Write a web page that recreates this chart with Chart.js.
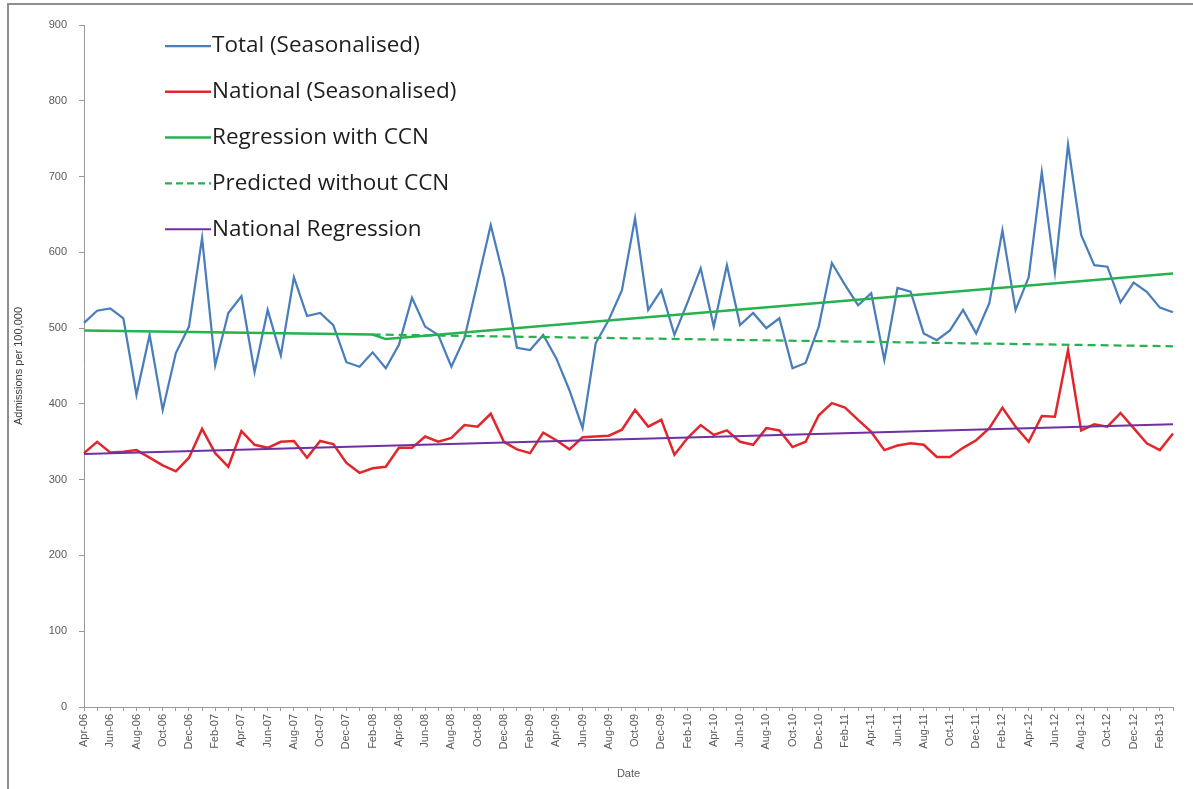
<!DOCTYPE html>
<html>
<head>
<meta charset="utf-8">
<title>Admissions per 100,000</title>
<script src="https://cdn.jsdelivr.net/npm/chart.js@4.4.0/dist/chart.umd.min.js"></script>
<style>
  html, body { margin: 0; padding: 0; background: #fff; }
  #frame { position: absolute; left: 7px; top: 3px; width: 1200px; height: 800px;
           border-left: 2px solid #8f8f8f; border-top: 2px solid #8f8f8f; }
  #wrap { position: absolute; left: 0; top: 0; width: 1193px; height: 789px; }
</style>
</head>
<body>
<div id="frame"></div>
<div id="wrap"><canvas id="chart" width="1193" height="789"></canvas></div>
<script>
// monthly categories, Apr-06 .. Mar-13
const months = [
  'Apr-06','May-06','Jun-06','Jul-06','Aug-06','Sep-06','Oct-06','Nov-06','Dec-06',
  'Jan-07','Feb-07','Mar-07','Apr-07','May-07','Jun-07','Jul-07','Aug-07','Sep-07','Oct-07','Nov-07','Dec-07',
  'Jan-08','Feb-08','Mar-08','Apr-08','May-08','Jun-08','Jul-08','Aug-08','Sep-08','Oct-08','Nov-08','Dec-08',
  'Jan-09','Feb-09','Mar-09','Apr-09','May-09','Jun-09','Jul-09','Aug-09','Sep-09','Oct-09','Nov-09','Dec-09',
  'Jan-10','Feb-10','Mar-10','Apr-10','May-10','Jun-10','Jul-10','Aug-10','Sep-10','Oct-10','Nov-10','Dec-10',
  'Jan-11','Feb-11','Mar-11','Apr-11','May-11','Jun-11','Jul-11','Aug-11','Sep-11','Oct-11','Nov-11','Dec-11',
  'Jan-12','Feb-12','Mar-12','Apr-12','May-12','Jun-12','Jul-12','Aug-12','Sep-12','Oct-12','Nov-12','Dec-12',
  'Jan-13','Feb-13','Mar-13'
];

const totalSeasonalised = [
  507, 523, 526, 513, 412, 491, 392, 467, 502,
  619, 451, 520, 542, 442, 524, 464, 567, 516, 520, 504, 455,
  449, 468, 447, 478, 540, 502, 491, 449, 487, 561, 636, 566,
  474, 471, 491, 460, 418, 368, 480, 511, 550, 645, 524, 550,
  491, 534, 579, 502, 583, 504, 520, 500, 513, 447, 454, 502,
  586, 557, 530, 546, 458, 553, 548, 493, 484, 497, 524, 493,
  533, 629, 524, 567, 706, 574, 742, 623, 583, 581, 534, 560,
  548, 527, 521
];

const nationalSeasonalised = [
  335, 350, 336, 337, 339, 329, 319, 311, 329,
  367, 335, 317, 364, 346, 342, 350, 351, 329, 351, 347, 322,
  309, 315, 317, 342, 342, 357, 350, 355, 372, 370, 387, 350,
  340, 335, 362, 352, 340, 356, 357, 358, 366, 392, 370, 379,
  333, 355, 372, 359, 365, 350, 346, 368, 365, 343, 350, 385,
  401, 395, 379, 363, 339, 345, 348, 346, 330, 330, 342, 352,
  368, 395, 370, 350, 384, 383, 471, 365, 373, 370, 388, 368,
  348, 339, 361
];

// straight trend lines, read at their ends and at the break
const ccnRegression = [
  { x: 'Apr-06', y: 497 }, { x: 'Feb-08', y: 491.5 },
  { x: 'Mar-08', y: 485.5 }, { x: 'Mar-13', y: 572 }
];
const predictedWithoutCcn = [{ x: 'Feb-08', y: 491.5 }, { x: 'Mar-13', y: 476 }];
const nationalRegression = [{ x: 'Apr-06', y: 334 }, { x: 'Mar-13', y: 373 }];

const yTicks = [0, 100, 200, 300, 400, 500, 600, 700, 800, 900];

// legend drawn inside the plot, like the excel one
const insideLegend = {
  id: 'insideLegend',
  afterDatasetsDraw(chart) {
    const ctx = chart.ctx;
    ctx.save();
    ctx.font = '22.5px "Open Sans"';
    ctx.textBaseline = 'middle';
    chart.data.datasets.forEach((ds, i) => {
      const y = 46 + i * 45.8;
      ctx.strokeStyle = ds.borderColor;
      ctx.lineWidth = ds.borderWidth;
      ctx.setLineDash(ds.borderDash ? [7, 4] : []);
      ctx.beginPath();
      ctx.moveTo(165, y);
      ctx.lineTo(211, y);
      ctx.stroke();
      ctx.setLineDash([]);
      ctx.fillStyle = '#1e1e1e';
      ctx.fillText(ds.label, 212, y);
    });
    ctx.restore();
  }
};

const ctx = document.getElementById('chart').getContext('2d');
const chart = new Chart(ctx, {
  type: 'line',
  data: {
    labels: months,
    datasets: [
      { label: 'Total (Seasonalised)', data: totalSeasonalised, borderColor: '#4a7ebb', borderWidth: 2.25, order: 5 },
      { label: 'National (Seasonalised)', data: nationalSeasonalised, borderColor: '#e3262b', borderWidth: 2.5, order: 4 },
      { label: 'Regression with CCN', data: ccnRegression, borderColor: '#25b24f', borderWidth: 2.5, order: 3 },
      { label: 'Predicted without CCN', data: predictedWithoutCcn, borderColor: '#25b24f', borderWidth: 2.25, borderDash: [8, 5], order: 2 },
      { label: 'National Regression', data: nationalRegression, borderColor: '#7030a0', borderWidth: 2, order: 1 }
    ]
  },
  options: {
    responsive: false,
    animation: false,
    elements: { point: { radius: 0 }, line: { tension: 0, fill: false } },
    layout: { padding: { top: 25, left: 8, right: 20, bottom: 4 } },
    plugins: { legend: { display: false }, tooltip: { enabled: false } },
    scales: {
      x: {
        offset: false,
        border: { display: true, color: '#9a9a9a' },
        grid: { drawOnChartArea: false, drawTicks: true, tickLength: 4, color: '#9a9a9a' },
        ticks: {
          autoSkip: false, maxRotation: 90, minRotation: 90, padding: 3,
          color: '#595959', font: { family: '"Liberation Sans"', size: 11 },
          callback: function(v, i) { return i % 2 === 0 ? this.getLabelForValue(v) : ''; }
        },
        title: { display: true, text: 'Date', color: '#595959', font: { family: '"Liberation Sans"', size: 11 }, padding: { top: 2, bottom: 4 } },
        afterFit: (scale) => { scale.height = 78; }
      },
      y: {
        min: 0, max: 900,
        border: { display: true, color: '#9a9a9a' },
        grid: { drawOnChartArea: false, drawTicks: true, tickLength: 5, color: '#9a9a9a' },
        afterBuildTicks: (scale) => { scale.ticks = yTicks.map(v => ({ value: v })); },
        ticks: { padding: 12, color: '#595959', font: { family: '"Liberation Sans"', size: 11 } },
        title: { display: true, text: 'Admissions per 100,000', color: '#404040', font: { family: '"Liberation Sans"', size: 11 }, padding: { top: 4, bottom: 4 } },
        afterFit: (scale) => { scale.width = 76; }
      }
    }
  },
  plugins: [insideLegend]
});
</script>
</body>
</html>
